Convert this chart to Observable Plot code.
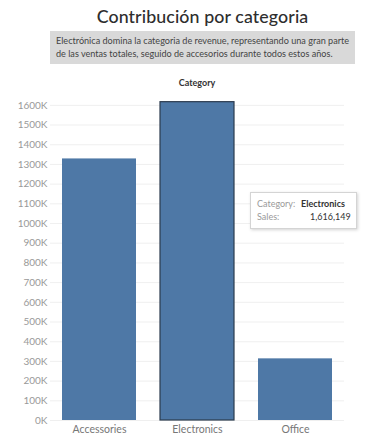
<!DOCTYPE html>
<html>
<head>
<meta charset="utf-8">
<script src="https://cdn.jsdelivr.net/npm/d3@7"></script>
<script src="https://cdn.jsdelivr.net/npm/@observablehq/plot@0.6"></script>
<style>
  html, body { margin: 0; padding: 0; background: #fff; }
  body { width: 375px; height: 440px; position: relative; overflow: hidden; font-family: Lato, sans-serif; }
  #title { position: absolute; left: 0; width: 405px; top: 5px; text-align: center; font-size: 17.8px; font-weight: 500; color: #2e2e2e; white-space: nowrap; letter-spacing: 0.1px; }
  #sub { position: absolute; left: 50px; width: 305px; top: 31px; height: 33px; background: #d9d9d9; color: #444; font-size: 9.1px; line-height: 12.5px; padding: 4px 0 0 6px; box-sizing: border-box; white-space: nowrap; }
  #cat { position: absolute; left: 50px; width: 294px; top: 77px; text-align: center; font-size: 9px; font-weight: 700; color: #333; }
  #chart { position: absolute; left: 0; top: 90px; }
  #tip { position: absolute; left: 250px; top: 192px; width: 107px; height: 37px; background: #fff; border: 1px solid #d4d4d4; box-shadow: 1px 1px 3px rgba(0,0,0,0.18); box-sizing: border-box; font-size: 9px; line-height: 12.5px; padding: 5px 0 0 6px; color: #333; white-space: nowrap; }
  #tip .k { color: #9a9a9a; display: inline-block; width: 44px; }
</style>
</head>
<body>
<div id="title">Contribución por categoria</div>
<div id="sub">Electrónica domina la categoria de revenue, representando una gran parte<br>de las ventas totales, seguido de accesorios durante todos estos años.</div>
<div id="cat">Category</div>
<div id="chart"></div>
<div id="tip"></div>
<script>
const categories = ["Accessories", "Electronics", "Office"];
const sales = [1328000, 1616149, 313000];
const yTicks = [0, 100000, 200000, 300000, 400000, 500000, 600000, 700000, 800000, 900000, 1000000, 1100000, 1200000, 1300000, 1400000, 1500000, 1600000];
const selected = "Electronics";

const data = categories.map((c, i) => ({category: c, sales: sales[i]}));

const chart = Plot.plot({
  width: 375,
  height: 350,
  marginTop: 5,
  marginBottom: 20,
  marginLeft: 50,
  marginRight: 31,
  style: { fontFamily: "Lato, sans-serif", fontSize: "10px", background: "#fff" },
  x: { domain: categories, paddingInner: 0.25, paddingOuter: 0.125, label: null, tickSize: 0, tickPadding: 4 },
  y: { domain: [0, 1650000], ticks: yTicks, label: null, tickSize: 0, tickPadding: 3, tickFormat: d => (d / 1000) + "K" },
  marks: [
    Plot.gridY(yTicks, { stroke: "#ebebeb", strokeOpacity: 1, strokeWidth: 0.8 }),
    Plot.ruleX([0], { frameAnchor: "left", stroke: "#eeeeee" }),
    Plot.barY(data, {
      x: "category",
      y: "sales",
      fill: "#4e78a6",
      stroke: d => d.category === selected ? "#2b3b4e" : "none",
      strokeWidth: 1.2
    }),
    Plot.axisY({ ticks: yTicks, tickSize: 0, tickPadding: 3, tickFormat: d => (d / 1000) + "K", color: "#999", fontSize: "10px" }),
    Plot.axisX({ tickSize: 0, tickPadding: 5, color: "#777", fontSize: "10.5px" })
  ]
});
document.getElementById("chart").appendChild(chart);

const sel = data.find(d => d.category === selected);
document.getElementById("tip").innerHTML =
  '<div><span class="k">Category:</span><b style="font-weight:700">' + sel.category + '</b></div>' +
  '<div><span class="k">Sales:</span><span style="padding-left:9px">' + d3.format(",")(sel.sales) + '</span></div>';
</script>
</body>
</html>
